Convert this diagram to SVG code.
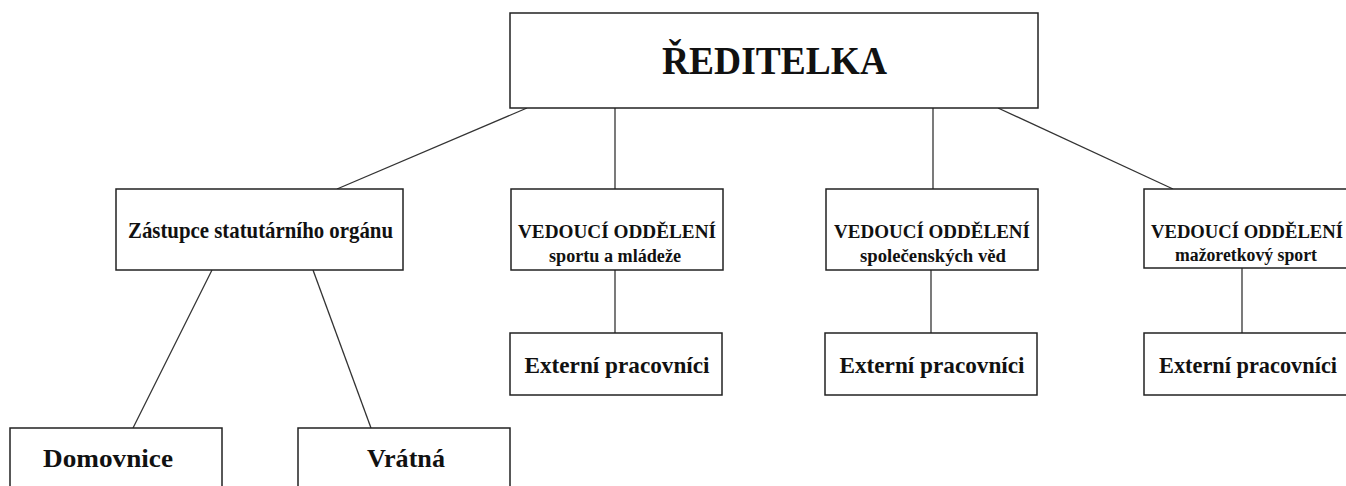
<svg xmlns="http://www.w3.org/2000/svg" width="1346" height="486" viewBox="0 0 1346 486">
<style>
.box{fill:#fff;stroke:#222;stroke-width:1.5}
.t{font-family:"Liberation Serif","Times New Roman",serif;font-weight:bold;fill:#111;text-anchor:middle}
.c line{stroke:#333;stroke-width:1.3}
</style>
<rect width="1346" height="486" fill="#fff"/>
<g id="connectors" class="c">
<line x1="527" y1="108" x2="337" y2="189"/>
<line x1="615" y1="108" x2="615" y2="189"/>
<line x1="933" y1="108" x2="933" y2="189"/>
<line x1="998" y1="108" x2="1173" y2="189"/>
<line x1="212" y1="270" x2="133" y2="428"/>
<line x1="313" y1="270" x2="371" y2="428"/>
<line x1="615" y1="270" x2="615" y2="333"/>
<line x1="931" y1="270" x2="931" y2="333"/>
<line x1="1242" y1="268" x2="1242" y2="333"/>
</g>
<g id="reditelka">
<rect class="box" x="510" y="13" width="528" height="95"/>
<text class="t" x="774.5" y="74" font-size="39" textLength="225" lengthAdjust="spacingAndGlyphs">ŘEDITELKA</text>
</g>
<g id="zastupce">
<rect class="box" x="116" y="189" width="287" height="81"/>
<text class="t" x="260.5" y="238" font-size="22.5" textLength="265" lengthAdjust="spacingAndGlyphs">Zástupce statutárního orgánu</text>
</g>
<g id="vedouci-sport">
<rect class="box" x="511" y="189" width="212" height="81"/>
<text class="t" x="617" y="238" font-size="18" textLength="198" lengthAdjust="spacingAndGlyphs">VEDOUCÍ ODDĚLENÍ</text>
<text class="t" x="615" y="262" font-size="18" textLength="132" lengthAdjust="spacingAndGlyphs">sportu a mládeže</text>
</g>
<g id="vedouci-spol">
<rect class="box" x="826" y="189" width="212" height="81"/>
<text class="t" x="932" y="238" font-size="18" textLength="196" lengthAdjust="spacingAndGlyphs">VEDOUCÍ ODDĚLENÍ</text>
<text class="t" x="933" y="262" font-size="18" textLength="146" lengthAdjust="spacingAndGlyphs">společenských věd</text>
</g>
<g id="vedouci-mazoretky">
<rect class="box" x="1144" y="189" width="210" height="79"/>
<text class="t" x="1247" y="238" font-size="18" textLength="192" lengthAdjust="spacingAndGlyphs">VEDOUCÍ ODDĚLENÍ</text>
<text class="t" x="1246" y="261" font-size="18" textLength="142" lengthAdjust="spacingAndGlyphs">mažoretkový sport</text>
</g>
<g id="externi-1">
<rect class="box" x="510" y="333" width="212" height="62"/>
<text class="t" x="617" y="373" font-size="24" textLength="185" lengthAdjust="spacingAndGlyphs">Externí pracovníci</text>
</g>
<g id="externi-2">
<rect class="box" x="825" y="333" width="212" height="62"/>
<text class="t" x="932" y="373" font-size="24" textLength="185" lengthAdjust="spacingAndGlyphs">Externí pracovníci</text>
</g>
<g id="externi-3">
<rect class="box" x="1144" y="333" width="210" height="62"/>
<text class="t" x="1248" y="373" font-size="23" textLength="178" lengthAdjust="spacingAndGlyphs">Externí pracovníci</text>
</g>
<g id="domovnice">
<rect class="box" x="10" y="428" width="212" height="80"/>
<text class="t" x="108" y="467" font-size="26" textLength="130" lengthAdjust="spacingAndGlyphs">Domovnice</text>
</g>
<g id="vratna">
<rect class="box" x="298" y="428" width="212" height="80"/>
<text class="t" x="406" y="467" font-size="26" textLength="78" lengthAdjust="spacingAndGlyphs">Vrátná</text>
</g>
</svg>
